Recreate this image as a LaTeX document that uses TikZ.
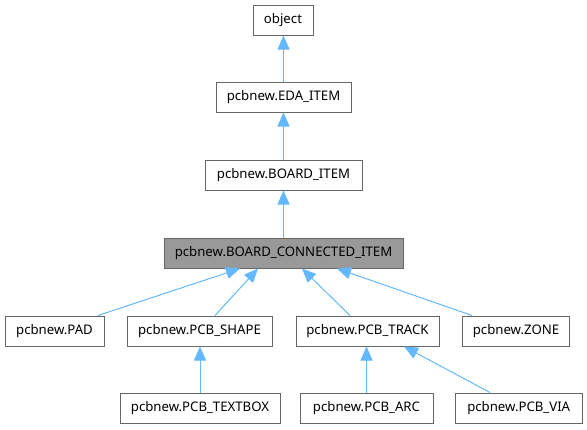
\documentclass[tikz,border=0pt]{standalone}
\usepackage{fontspec}
\setmainfont{Noto Sans}
\usetikzlibrary{arrows.meta}
\definecolor{edgeblue}{HTML}{63B8FF}
\definecolor{boxgray}{HTML}{666666}
\definecolor{fillgray}{HTML}{999999}
\tikzset{
  cls/.style={draw=boxgray, line width=1pt, fill=white, minimum height=30pt, inner sep=0pt,
    font=\fontsize{13.2}{15}\selectfont, text=black},
  cur/.style={cls, fill=fillgray},
  inh/.style={draw=edgeblue, line width=1pt, -{Triangle[length=14pt,width=12pt,fill=edgeblue]}},
}
\begin{document}
\begin{tikzpicture}[x=1pt,y=-1pt]
\useasboundingbox (0,0) rectangle (587,429);
\node[cls, minimum width=60pt]  (obj)  at (283,20)    {object};
\node[cls, minimum width=135pt] (eda)  at (283.5,97)  {pcbnew.EDA\_ITEM};
\node[cls, minimum width=157pt] (bi)   at (283.5,175) {pcbnew.BOARD\_ITEM};
\node[cur, minimum width=239pt] (bci)  at (283.5,253) {pcbnew.BOARD\_CONNECTED\_ITEM};
\node[cls, minimum width=99pt]  (pad)  at (54.5,331)  {pcbnew.PAD};
\node[cls, minimum width=145pt] (shape) at (199.5,331) {pcbnew.PCB\_SHAPE};
\node[cls, minimum width=160pt] (tbox) at (200,408)   {pcbnew.PCB\_TEXTBOX};
\node[cls, minimum width=143pt] (track) at (367.5,331) {pcbnew.PCB\_TRACK};
\node[cls, minimum width=107pt] (zone) at (516,331)   {pcbnew.ZONE};
\node[cls, minimum width=133pt] (arc)  at (366.5,408) {pcbnew.PCB\_ARC};
\node[cls, minimum width=127pt] (via)  at (518.7,408) {pcbnew.PCB\_VIA};

\draw[inh] (eda.north) -- (eda.north |- obj.south);
\draw[inh] (bi.north) -- (bi.north |- eda.south);
\draw[inh] (bci.north) -- (bci.north |- bi.south);
\draw[inh] ([xshift=43.5pt]pad.north) -- ([xshift=-43.5pt]bci.south);
\draw[inh] ([xshift=15.5pt]shape.north) -- ([xshift=-25.5pt]bci.south);
\draw[inh] ([xshift=-17.5pt]track.north) -- ([xshift=18.5pt]bci.south);
\draw[inh] ([xshift=-44pt]zone.north) -- ([xshift=53.5pt]bci.south);
\draw[inh] (tbox.north) -- (tbox.north |- shape.south);
\draw[inh] (arc.north) -- (arc.north |- track.south);
\draw[inh] ([xshift=-28.7pt]via.north) -- ([xshift=36.5pt]track.south);
\end{tikzpicture}
\end{document}
